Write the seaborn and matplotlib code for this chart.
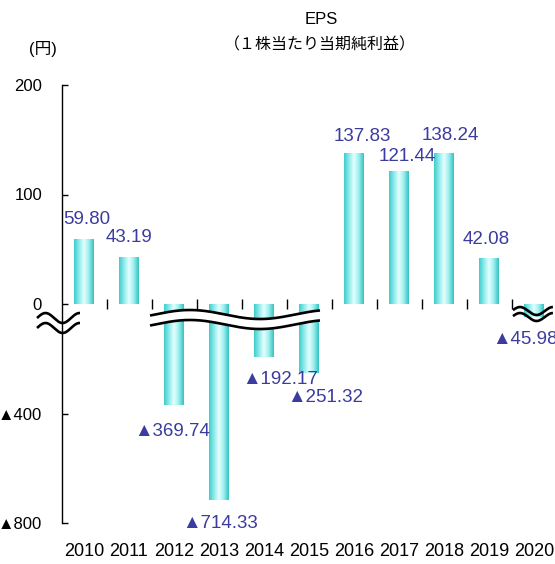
import numpy as np
import matplotlib
matplotlib.use("Agg")
import matplotlib.pyplot as plt
import seaborn as sns
from matplotlib.colors import LinearSegmentedColormap

# EPS per fiscal year (yen); negative values are losses
years = ["2010", "2011", "2012", "2013", "2014", "2015",
         "2016", "2017", "2018", "2019", "2020"]
eps = [59.80, 43.19, -369.74, -714.33, -192.17, -251.32,
       137.83, 121.44, 138.24, 42.08, -45.98]
y_ticks = [200, 100, 0, -400, -800]
y_tick_labels = ["200", "100", "0", "▲400", "▲800"]

sns.set_theme(style="white")
plt.rcParams["font.family"] = ["Liberation Sans", "Noto Sans CJK JP", "DejaVu Sans"]

fig = plt.figure(figsize=(5.55, 5.64), dpi=100)
ax = fig.add_axes([61.5 / 555, 41 / 564, 495 / 555, 438 / 564])

sns.barplot(x=years, y=eps, ax=ax, width=0.44, color="#7fe0e0",
            saturation=1, errorbar=None, edgecolor="none", linewidth=0)

# losses are drawn on a compressed (1/4) scale below zero
def fwd(v):
    v = np.asarray(v, dtype=float)
    return np.where(v >= 0, v, v / 4.0)

def inv(v):
    v = np.asarray(v, dtype=float)
    return np.where(v >= 0, v, v * 4.0)

ax.set_yscale("function", functions=(fwd, inv))
ax.set_ylim(-800, 200)
ax.set_xlim(-0.5, 10.5)

# cylindrical shading on each bar
cmap = LinearSegmentedColormap.from_list(
    "cyl", ["#3ecccc", "#8feaea", "#e6ffff", "#9aeeee", "#36c2c2"])
grad = np.linspace(0, 1, 64).reshape(1, -1)
x0, x1 = ax.get_xlim()
for patch in ax.patches:
    px = patch.get_x()
    pw = patch.get_width()
    ex0 = (px - x0) / (x1 - x0)
    ex1 = (px + pw - x0) / (x1 - x0)
    im = ax.imshow(grad, cmap=cmap, aspect="auto", extent=[ex0, ex1, 0, 1],
                   transform=ax.transAxes, zorder=2, interpolation="bilinear")
    im.set_clip_path(patch)
ax.set_xlim(x0, x1)
ax.set_ylim(-800, 200)

# spines / ticks
for s in ["top", "right", "bottom"]:
    ax.spines[s].set_visible(False)
ax.spines["left"].set_color("black")
ax.spines["left"].set_linewidth(1.0)
ax.set_yticks(y_ticks)
ax.set_yticklabels(y_tick_labels)
ax.yaxis.set_minor_locator(matplotlib.ticker.NullLocator())
ax.tick_params(axis="y", direction="in", length=4.5, width=1.0, color="black",
               left=True, labelsize=12, pad=14, labelcolor="black")
ax.set_xticks(range(len(years)))
ax.set_xticklabels(years)
ax.tick_params(axis="x", length=0, labelsize=13, pad=14.5, labelcolor="black")
ax.grid(False)
ax.set_xlabel("")
ax.set_ylabel("")

# zero baseline with category separators
zero = ax.secondary_xaxis(0.5)
zero.set_xticks([i + 0.5 for i in range(len(years) - 1)])
zero.tick_params(direction="inout", length=7.5, width=1.0, color="black",
                 labelbottom=False, labeltop=False, bottom=True, top=False)
zero.spines["bottom"].set_linewidth(1.0)
zero.spines["bottom"].set_color("black")
for s in ["top", "left", "right"]:
    zero.spines[s].set_visible(False)

# value labels
label_color = "#3b3ba0"
nudges = [(3, -19), (0, -19), (-2, 26), (1, 24), (16, 23), (16, 25),
          (8, -17), (8, -15), (6, -17), (-3, -18), (-9, 23)]
for i, (v, (dx, dy)) in enumerate(zip(eps, nudges)):
    txt = f"{v:.2f}" if v >= 0 else f"▲{abs(v):.2f}"
    ax.annotate(txt, xy=(i, v), xytext=(dx * 0.72, -dy * 0.72),
                textcoords="offset points", ha="center", va="center",
                fontsize=13.5, color=label_color, zorder=5,
                annotation_clip=False)

# axis-break marks
def break_pair(xa, xb, yc, amp, period, xph, gap, fill):
    xs = np.linspace(xa, xb, 200)
    ya = yc + amp * np.sin(2 * np.pi * (xs - xph) / period)
    yb = ya - gap
    tr = matplotlib.transforms.blended_transform_factory(ax.transData, ax.transAxes)
    if fill:
        ax.fill_between(xs, yb, ya, transform=tr, color="white", zorder=6,
                        clip_on=False, linewidth=0)
    for yy in (ya, yb):
        ax.plot(xs, yy, transform=tr, color="black", lw=1.9, zorder=7,
                clip_on=False, solid_capstyle="butt")

break_pair(-1.044, -0.089, 0.468, 0.0114, 0.756, -1.044, 0.0228, False)
break_pair(1.467, 5.244, 0.476, 0.0103, 3.111, 1.578, 0.0228, True)
break_pair(9.533, 10.42, 0.484, 0.0091, 0.733, 9.506, 0.0137, False)

# titles
fig.text(321 / 555, 1 - 19 / 564, "EPS", ha="center", va="center",
         fontsize=12, color="black")
fig.text(320 / 555, 1 - 45 / 564, "（１株当たり当期純利益）", ha="center",
         va="center", fontsize=11.5, color="black",
         family=["Noto Sans CJK JP", "DejaVu Sans"])
fig.text(42.5 / 555, 1 - 49 / 564, "(円)", ha="center", va="center",
         fontsize=12, color="black",
         family=["Liberation Sans", "Noto Sans CJK JP"])

fig.savefig("out.png", dpi=100, facecolor="white")
